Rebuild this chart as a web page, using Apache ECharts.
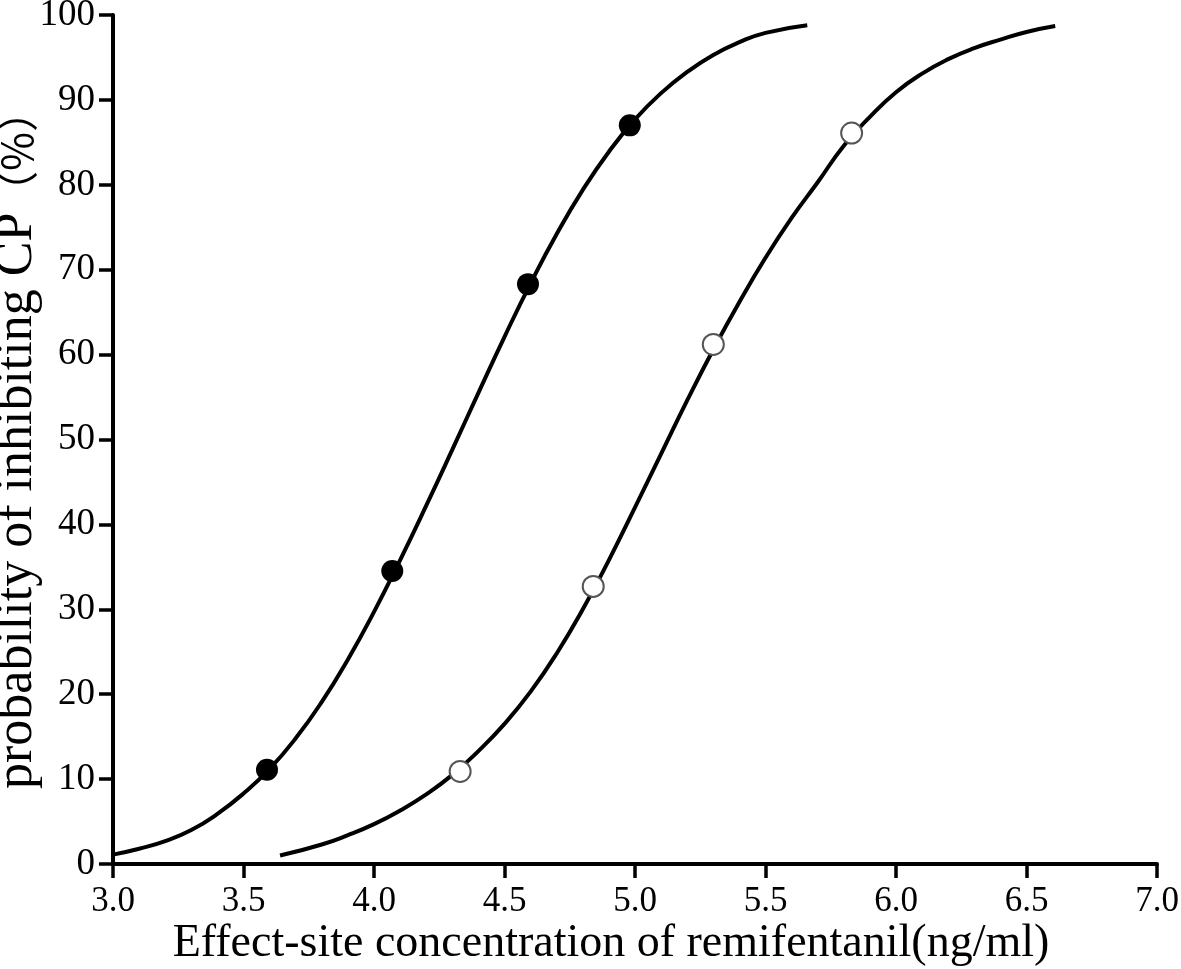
<!DOCTYPE html>
<html>
<head>
<meta charset="utf-8">
<script src="https://cdn.jsdelivr.net/npm/echarts@6/dist/echarts.min.js"></script>
<style>html,body{margin:0;padding:0;background:#fff;}#chart{width:1181px;height:969px;}</style>
</head>
<body>
<div id="chart"></div>
<script>
// Tick labels
const xTicks = [3.0, 3.5, 4.0, 4.5, 5.0, 5.5, 6.0, 6.5, 7.0];
const yTicks = [0, 10, 20, 30, 40, 50, 60, 70, 80, 90, 100];

// Observed points (filled circles)
const filledPtsX = [3.59, 4.07, 4.59, 4.98];
const filledPtsY = [11.1, 34.5, 68.3, 87.0];
// Observed points (open circles)
const openPtsX = [4.33, 4.84, 5.30, 5.83];
const openPtsY = [10.9, 32.7, 61.2, 86.1];

// Fitted curve (filled group)
const filledCurveX = [3.0, 3.1, 3.2, 3.3, 3.4, 3.5, 3.6, 3.7, 3.8, 3.9, 4.0, 4.1, 4.2, 4.3, 4.4, 4.5, 4.6, 4.7, 4.8, 4.9, 5.0, 5.1, 5.2, 5.3, 5.4, 5.5, 5.66];
const filledCurveY = [1.1, 1.8, 2.7, 4.0, 5.9, 8.3, 11.2, 14.8, 19.1, 24.1, 29.7, 35.8, 42.2, 48.8, 55.5, 62.1, 68.4, 74.2, 79.4, 83.9, 87.7, 90.8, 93.3, 95.3, 96.8, 97.9, 98.8];
// Fitted curve (open group)
const openCurveX = [3.64, 3.8, 3.9, 4.0, 4.1, 4.2, 4.3, 4.4, 4.5, 4.6, 4.7, 4.8, 4.9, 5.0, 5.1, 5.2, 5.3, 5.4, 5.5, 5.6, 5.7, 5.8, 5.9, 6.0, 6.1, 6.2, 6.3, 6.4, 6.5, 6.61];
const openCurveY = [1.0, 2.3, 3.4, 4.7, 6.3, 8.2, 10.5, 13.3, 16.5, 20.3, 24.8, 30.0, 35.8, 42.0, 48.3, 54.6, 60.6, 66.2, 71.4, 76.1, 80.3, 84.6, 88.0, 90.9, 93.1, 94.8, 96.1, 97.1, 98.0, 98.7];

const zip = (a, b) => a.map((v, i) => [v, b[i]]);

const chart = echarts.init(document.getElementById('chart'));
const serif = '"Liberation Serif", "Times New Roman", serif';
chart.setOption({
  backgroundColor: '#ffffff',
  animation: false,
  grid: { left: 113, right: 24, top: 15, bottom: 105, containLabel: false, outerBoundsMode: 'none' },
  xAxis: {
    type: 'value', min: 3, max: 7, interval: 0.5,
    name: 'Effect-site concentration of remifentanil(ng/ml)',
    nameLocation: 'middle', nameGap: 57, nameMoveOverlap: false,
    nameTextStyle: { fontFamily: serif, fontSize: 46, color: '#000', verticalAlign: 'top', padding: [0, 48, 0, 0] },
    axisLine: { show: true, lineStyle: { color: '#000', width: 4 } },
    axisTick: { show: true, length: 14, lineStyle: { color: '#000', width: 3.5 } },
    axisLabel: { fontFamily: serif, fontSize: 35, color: '#000', margin: 20,
      formatter: v => v.toFixed(1) },
    splitLine: { show: false }
  },
  yAxis: {
    type: 'value', min: 0, max: 100, interval: 10,
    name: '{a|probability of inhibiting CP}{c|（%）}',
    nameLocation: 'middle', nameGap: 70, nameMoveOverlap: false,
    nameTextStyle: {
      padding: [0, 0, 0, 0],
      rich: {
        a: { fontFamily: serif, fontSize: 52, color: '#000' },
        c: { fontFamily: '"Noto Sans CJK SC", sans-serif', fontSize: 42, color: '#000' }
      }
    },
    axisLine: { show: true, lineStyle: { color: '#000', width: 4 } },
    axisTick: { show: true, length: 14, lineStyle: { color: '#000', width: 3.5 } },
    axisLabel: { fontFamily: serif, fontSize: 37, color: '#000', margin: 18 },
    splitLine: { show: false }
  },
  series: [
    { type: 'line', data: zip(filledCurveX, filledCurveY), smooth: 0.5, showSymbol: false,
      lineStyle: { color: '#000', width: 4 }, z: 2 },
    { type: 'line', data: zip(openCurveX, openCurveY), smooth: 0.5, showSymbol: false,
      lineStyle: { color: '#000', width: 4 }, z: 2 },
    { type: 'scatter', data: zip(filledPtsX, filledPtsY), symbol: 'circle', symbolSize: 22,
      itemStyle: { color: '#000', opacity: 1 }, z: 5 },
    { type: 'scatter', data: zip(openPtsX, openPtsY), symbol: 'circle', symbolSize: 21,
      itemStyle: { color: '#fff', borderColor: '#555', borderWidth: 2, opacity: 1 }, z: 5 }
  ]
});
</script>
</body>
</html>
